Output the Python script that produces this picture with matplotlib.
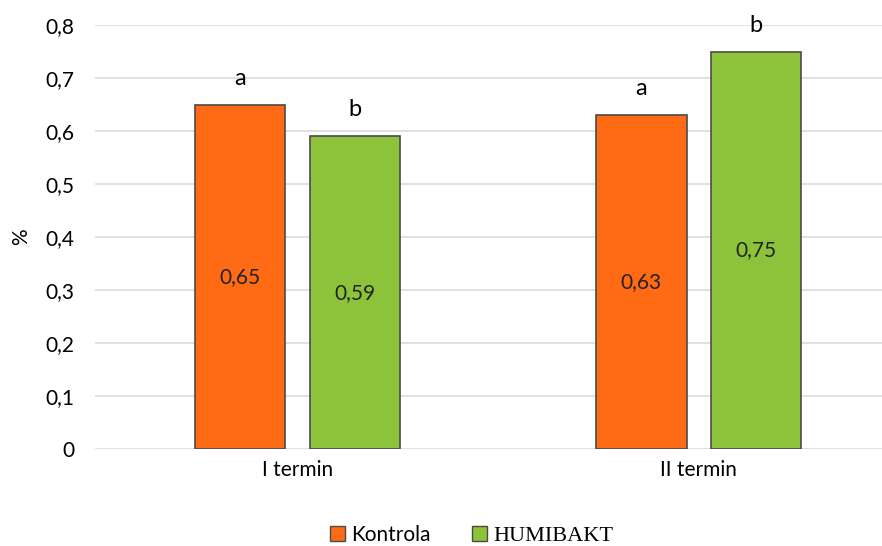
import numpy as np
import matplotlib.pyplot as plt
from matplotlib.patches import Patch

plt.rcParams['font.family'] = ['Lato', 'DejaVu Sans']

# Data
terms = ["I termin", "II termin"]
kontrola = [0.65, 0.63]
humibakt = [0.59, 0.75]
kontrola_letters = ["a", "a"]
humibakt_letters = ["b", "b"]
yticks = [0, 0.1, 0.2, 0.3, 0.4, 0.5, 0.6, 0.7, 0.8]

orange = '#FF6A14'
green = '#8DC33B'
edge = '#4a4a4a'

fig = plt.figure(figsize=(8.82, 5.46), dpi=100)
ax = fig.add_axes([0.1077, 0.1777, 0.8923, 0.7763])

x = np.arange(len(terms))
w = 0.225
off = 0.1425

b1 = ax.bar(x - off, kontrola, w, color=orange, edgecolor=edge, linewidth=1.2, zorder=3)
b2 = ax.bar(x + off, humibakt, w, color=green, edgecolor=edge, linewidth=1.2, zorder=3)

# Values inside the bars, significance letters above
for bars, vals, letters in [(b1, kontrola, kontrola_letters), (b2, humibakt, humibakt_letters)]:
    for rect, v, lt in zip(bars, vals, letters):
        cx = rect.get_x() + rect.get_width() / 2
        ax.text(cx, v / 2, f"{v:.2f}".replace('.', ','), ha='center', va='center',
                fontsize=15, color='#222222', zorder=4)
        ax.text(cx, v + 0.03, lt, ha='center', va='bottom', fontsize=17, color='black')

ax.set_xlim(-0.505, 1.4575)
ax.set_ylim(0, 0.8)
ax.set_yticks(yticks)
ax.set_yticklabels([f"{t:g}".replace('.', ',') for t in yticks], fontsize=15)
ax.set_xticks(x)
ax.set_xticklabels(terms, fontsize=15)
ax.tick_params(length=0, pad=8)
ax.tick_params(axis='y', pad=15)
ax.set_ylabel("%", fontsize=15, labelpad=10)

ax.yaxis.grid(True, color='#dcdcdc', linewidth=1.2, zorder=0)
for s in ax.spines.values():
    s.set_visible(False)

handles = [Patch(facecolor=orange, edgecolor=edge), Patch(facecolor=green, edgecolor=edge)]
leg = fig.legend(handles, ["Kontrola", "HUMIBAKT"], loc='center', bbox_to_anchor=(0.535, 0.02),
                 ncol=2, frameon=False, fontsize=15, handlelength=0.7, handleheight=0.7,
                 handletextpad=0.3, columnspacing=2.0)
leg.get_texts()[1].set_fontfamily('Liberation Serif')
leg.get_texts()[1].set_fontsize(16)

fig.savefig("out.png", dpi=100)
